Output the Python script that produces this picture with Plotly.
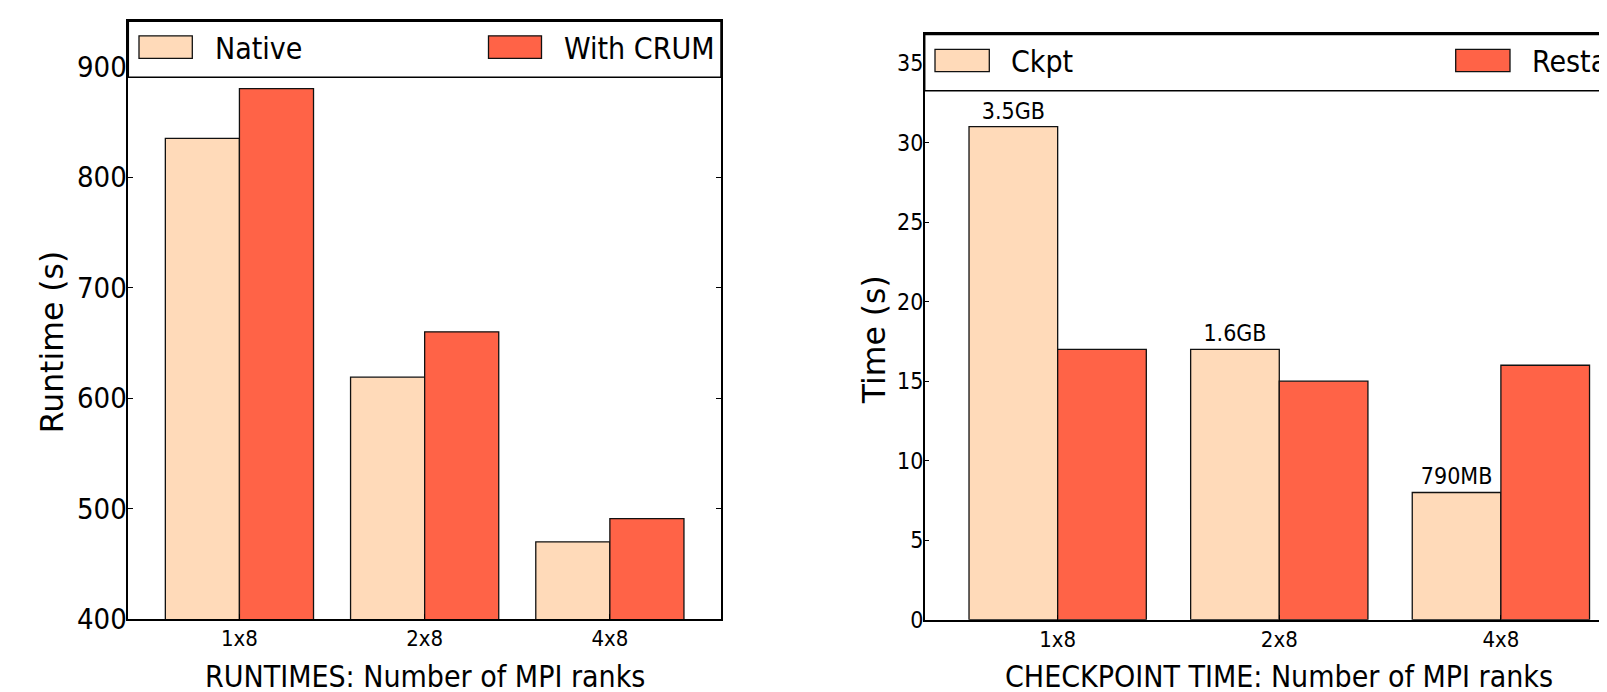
import plotly.graph_objects as go

# ---- data ----
categories = ["1x8", "2x8", "4x8"]
native = [835, 619, 470]
with_crum = [880, 660, 491]
ckpt = [31, 17, 8]
restart = [17, 15, 16]
ckpt_labels = ["3.5GB", "1.6GB", "790MB"]

# ---- style / placement helpers ----
OFF = 8          # page body margin
VS = 0.978       # observed vertical scale of the photographed page
FW, FH = 1607 - 2 * OFF, 691
FONT = "DejaVu Sans Condensed, DejaVu Sans, sans-serif"
FONT_V = "DejaVu Sans, sans-serif"
LIGHT = "#FFDAB9"
RED = "#FF6347"
EDGE = "#111111"


def px(x):
    return (x - OFF) / FW


def py(y):
    return 1 - (y / VS - OFF) / FH


fig = go.Figure()

fig.add_trace(go.Bar(x=categories, y=native, name="Native", xaxis="x", yaxis="y",
                     marker=dict(color=LIGHT, line=dict(color=EDGE, width=1.3)),
                     showlegend=False))
fig.add_trace(go.Bar(x=categories, y=with_crum, name="With CRUM", xaxis="x", yaxis="y",
                     marker=dict(color=RED, line=dict(color=EDGE, width=1.3)),
                     showlegend=False))
fig.add_trace(go.Bar(x=categories, y=ckpt, name="Ckpt", xaxis="x2", yaxis="y2",
                     marker=dict(color=LIGHT, line=dict(color=EDGE, width=1.3)),
                     text=ckpt_labels, textposition="outside", cliponaxis=False,
                     textfont=dict(size=23, color="black", family=FONT),
                     showlegend=False))
fig.add_trace(go.Bar(x=categories, y=restart, name="Restart", xaxis="x2", yaxis="y2",
                     marker=dict(color=RED, line=dict(color=EDGE, width=1.3)),
                     showlegend=False))

axis_common = dict(showline=True, linecolor="black", linewidth=1.5, ticks="inside",
                   ticklen=5, tickwidth=1.2, tickcolor="black", showgrid=False,
                   zeroline=False)

fig.update_layout(
    width=FW, height=FH,
    margin=dict(l=0, r=0, t=0, b=0),
    paper_bgcolor="white", plot_bgcolor="white",
    font=dict(family=FONT, color="black"),
    barmode="group", bargap=0.2, bargroupgap=0,
    xaxis=dict(domain=[px(128.3), px(721)], range=[-0.6, 2.6], type="category",
               anchor="y", mirror=True, tickfont=dict(size=22),
               ticklabelstandoff=-1, **axis_common),
    yaxis=dict(domain=[py(620.7), py(21)], range=[400, 941], anchor="x",
               tickvals=[400, 500, 600, 700, 800, 900], mirror="ticks",
               tickfont=dict(size=29), ticklabelstandoff=-6, **axis_common),
    xaxis2=dict(domain=[px(924.7), 1], range=[-0.6, (FW + OFF - 1057.7) / 221.6], type="category",
                anchor="y2", mirror=True, tickfont=dict(size=22),
                ticklabelstandoff=-1, **axis_common),
    yaxis2=dict(domain=[py(621.2), py(34.3)], range=[0, 36.8], anchor="x2",
                tickvals=[0, 5, 10, 15, 20, 25, 30, 35], mirror=False,
                tickfont=dict(size=23), ticklabelstandoff=-5, **axis_common),
)

shapes = []
annotations = []

# legend frames
shapes.append(dict(type="rect", xref="paper", yref="paper",
                   x0=px(128.3), x1=px(721), y0=py(77.3), y1=py(21),
                   fillcolor="white", line=dict(color="black", width=1.5), layer="above"))
shapes.append(dict(type="rect", xref="paper", yref="paper",
                   x0=px(924.7), x1=1.05, y0=py(90.7), y1=py(34.3),
                   fillcolor="white", line=dict(color="black", width=1.5), layer="above"))

legend_items = [
    (139, 192.3, 35.7, 58.3, LIGHT, 213, "Native"),
    (488.5, 541.5, 35.7, 58.3, RED, 562, "With CRUM"),
    (935, 989.3, 49.3, 71.7, LIGHT, 1009, "Ckpt"),
    (1455.7, 1510, 49.3, 71.7, RED, 1530, "Restart"),
]
for x0, x1, y0, y1, col, tx, label in legend_items:
    shapes.append(dict(type="rect", xref="paper", yref="paper",
                       x0=px(x0), x1=px(x1), y0=py(y1), y1=py(y0),
                       fillcolor=col, line=dict(color=EDGE, width=1.3), layer="above"))
    annotations.append(dict(text=label, xref="paper", yref="paper",
                            x=px(tx), y=py((y0 + y1) / 2 + 1), xanchor="left", yanchor="middle",
                            showarrow=False, font=dict(size=30, family=FONT, color="black")))

# axis titles
annotations.append(dict(text="RUNTIMES: Number of MPI ranks", xref="x", yref="paper",
                        x="2x8", y=py(678), xanchor="center", yanchor="middle",
                        showarrow=False, font=dict(size=30, family=FONT, color="black")))
annotations.append(dict(text="CHECKPOINT TIME: Number of MPI ranks", xref="x2", yref="paper",
                        x="2x8", y=py(678), xanchor="center", yanchor="middle",
                        showarrow=False, font=dict(size=30, family=FONT, color="black")))
annotations.append(dict(text="Runtime (s)", xref="paper", yref="paper",
                        x=px(51.5), y=py(342.5), xanchor="center", yanchor="middle",
                        textangle=-90, showarrow=False,
                        font=dict(size=31.5, family=FONT_V, color="black")))
annotations.append(dict(text="Time (s)", xref="paper", yref="paper",
                        x=px(874), y=py(341), xanchor="center", yanchor="middle",
                        textangle=-90, showarrow=False,
                        font=dict(size=31.5, family=FONT_V, color="black")))

fig.update_layout(shapes=shapes, annotations=annotations)

fig.write_html("out.html")
